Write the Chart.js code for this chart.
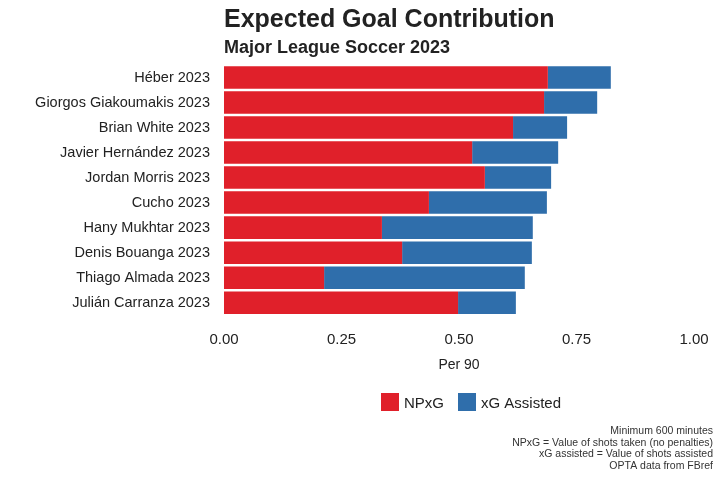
<!DOCTYPE html>
<html><head><meta charset="utf-8">
<script src="https://cdn.jsdelivr.net/npm/chart.js@4"></script>
<style>body{margin:0;background:#fff}#wrap{width:720px;height:478px}</style>
</head><body><div id="wrap"><canvas id="chart"></canvas></div>
<script>
const players = ['Héber 2023','Giorgos Giakoumakis 2023','Brian White 2023','Javier Hernández 2023','Jordan Morris 2023','Cucho 2023','Hany Mukhtar 2023','Denis Bouanga 2023','Thiago Almada 2023','Julián Carranza 2023'];
const npxg = [0.689, 0.681, 0.615, 0.528, 0.555, 0.436, 0.336, 0.379, 0.213, 0.498];
const xgAssisted = [0.134, 0.113, 0.115, 0.183, 0.141, 0.251, 0.321, 0.276, 0.427, 0.123];
const xTicks = [0, 0.25, 0.5, 0.75, 1];
const notes = ['Minimum 600 minutes','NPxG = Value of shots taken (no penalties)','xG assisted = Value of shots assisted','OPTA data from FBref'];

const RED = '#e0202a', BLUE = '#2f6eab', INK = '#222';
const FONT = '"Liberation Sans", Arial, sans-serif';

// titles, legend and notes drawn against the chart area
const extras = {
  id: 'extras',
  afterDraw(c) {
    const ctx = c.ctx, a = c.chartArea;
    ctx.save();
    ctx.fillStyle = INK;
    ctx.textBaseline = 'alphabetic';
    ctx.textAlign = 'left';
    ctx.font = 'bold 25px ' + FONT;
    ctx.fillText('Expected Goal Contribution', a.left, 27);
    ctx.font = 'bold 18px ' + FONT;
    ctx.fillText('Major League Soccer 2023', a.left, 53);
    // legend
    ctx.font = '15px ' + FONT;
    const items = [['NPxG', RED], ['xG Assisted', BLUE]];
    let x = 381;
    items.forEach(([t, col]) => {
      ctx.fillStyle = col;
      ctx.fillRect(x, 393, 18, 18);
      ctx.fillStyle = INK;
      ctx.fillText(t, x + 23, 408);
      x += 23 + ctx.measureText(t).width + 14;
    });
    // notes
    ctx.textAlign = 'right';
    ctx.font = '10.5px ' + FONT;
    ctx.fillStyle = '#333';
    notes.forEach((n, i) => ctx.fillText(n, 713, 434 + i * 11.5));
    ctx.restore();
  }
};

new Chart(document.getElementById('chart'), {
  type: 'bar',
  data: {
    labels: players,
    datasets: [
      { label: 'NPxG', data: npxg, backgroundColor: RED, borderWidth: 0, barPercentage: 0.9, categoryPercentage: 1 },
      { label: 'xG Assisted', data: xgAssisted, backgroundColor: BLUE, borderWidth: 0, barPercentage: 0.9, categoryPercentage: 1 }
    ]
  },
  options: {
    indexAxis: 'y',
    responsive: true,
    maintainAspectRatio: false,
    animation: false,
    layout: { padding: { top: 65, right: 26, bottom: 100, left: 0 } },
    plugins: { legend: { display: false }, tooltip: { enabled: false } },
    scales: {
      x: {
        stacked: true, min: 0, max: 1,
        grid: { display: false }, border: { display: false },
        afterBuildTicks: s => { s.ticks = xTicks.map(v => ({ value: v })); },
        ticks: { color: INK, font: { family: FONT, size: 15 }, callback: v => v.toFixed(2), padding: 8, maxRotation: 0 },
        title: { display: true, text: 'Per 90', color: INK, font: { family: FONT, size: 14 }, padding: { top: 0 } }
      },
      y: {
        stacked: true,
        grid: { display: false }, border: { display: false },
        ticks: { color: INK, font: { family: FONT, size: 14.5 }, padding: 6 },
        afterFit: s => { s.width = 224; }
      }
    }
  },
  plugins: [extras]
});
</script></body></html>
